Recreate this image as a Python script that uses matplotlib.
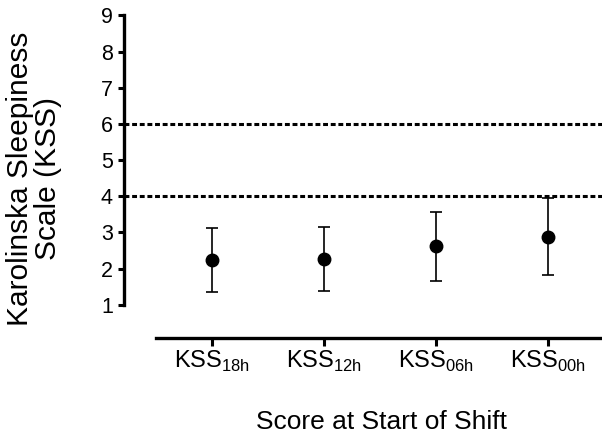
import matplotlib
matplotlib.use('Agg')
import matplotlib.pyplot as plt
import numpy as np

plt.rcParams['font.family'] = ['Liberation Sans', 'DejaVu Sans']

# Mittelwerte und Standardabweichungen
shifts = ['18h', '12h', '06h', '00h']
means = [2.24, 2.27, 2.62, 2.88]
sds = [0.89, 0.89, 0.95, 1.06]
thresholds = [4, 6]
y_ticks = [1, 2, 3, 4, 5, 6, 7, 8, 9]

W, H = 602, 443
fig = plt.figure(figsize=(W / 100, H / 100), dpi=100)
ax = fig.add_axes([124 / W, (H - 338) / H, (W - 124) / W, (338 - 15.5) / H])

x = np.arange(len(shifts))
for t in thresholds:
    ax.axhline(t, color='black', lw=2.2, linestyle=(0, (1.6, 0.9)), zorder=1)

ax.errorbar(x, means, yerr=sds, fmt='o', color='black', ms=9,
            elinewidth=1.2, capsize=4.3, capthick=1.2, zorder=3)

ax.set_xlim((124 - 212) / 112, (W - 212) / 112)
ax.set_ylim(0.08, 9)
ax.set_yticks(y_ticks)
ax.set_xticks(x)
ax.set_xticklabels([r'KSS$_{\mathregular{%s}}$' % s for s in shifts])

for side in ['top', 'right']:
    ax.spines[side].set_visible(False)
ax.spines['left'].set_bounds(1, 9)
ax.spines['bottom'].set_bounds(-0.5, 4)
for side in ['left', 'bottom']:
    ax.spines[side].set_linewidth(2.4)
ax.tick_params(axis='y', length=4.5, width=2.2, labelsize=15.5, pad=3.5)
ax.tick_params(axis='x', length=5.5, width=2.2, labelsize=17, pad=2)

fig.text(34 / W, 1 - 179 / H, 'Karolinska Sleepiness\nScale (KSS)', rotation=90,
         ha='center', va='center', fontsize=21.5, multialignment='center',
         linespacing=1.0)
fig.text(381 / W, 1 - 429 / H, 'Score at Start of Shift', ha='center',
         va='baseline', fontsize=19)

fig.savefig('out.png', dpi=100)
